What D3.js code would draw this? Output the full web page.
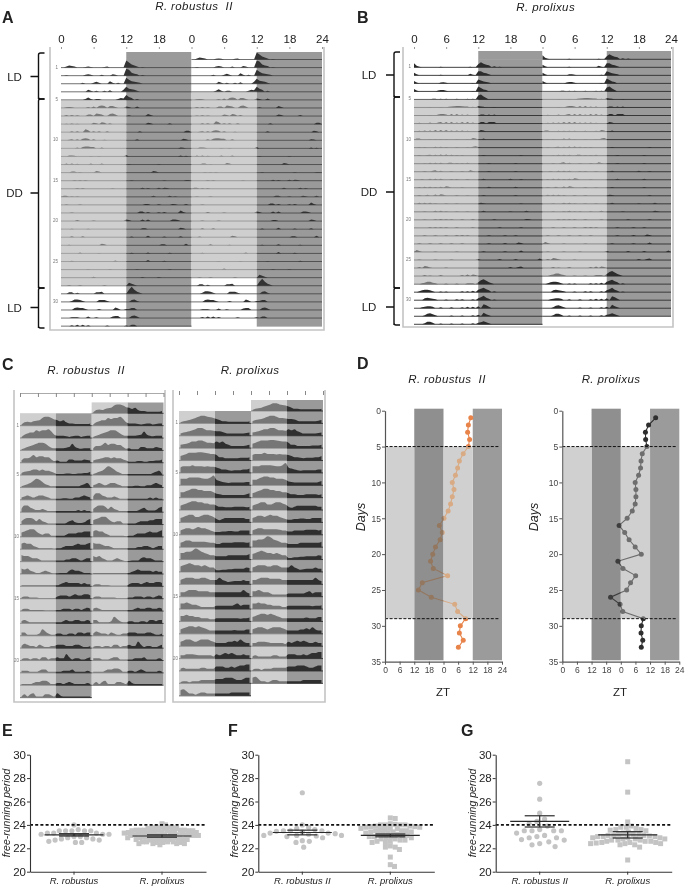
<!DOCTYPE html>
<html>
<head>
<meta charset="utf-8">
<script src="https://cdn.jsdelivr.net/npm/d3@7"></script>
<style>
  body { margin: 0; background: white; }
  svg { filter: blur(0.4px); }
  text { font-family: "Liberation Sans", Arial, sans-serif; fill: #222; }
</style>
</head>
<body>
<script>
// Panels A and B: activity per day, only the non-zero half hour bins as [hour, height]
var actoRobustus = [
  [[1,1],[1.5,2],[2,1.5],[2.5,1],[4.5,.7],[5,1],[5.5,.7],[8,.7],[8.5,1],[12,7],[12.5,5],[13,3],[13.5,2],[14,1],[15,.5]],
  [[1,.5],[4.5,1],[5,1.5],[5.5,1],[7.5,1],[9.5,1.5],[10,1],[12,7],[12.5,6],[13,3],[13.5,2],[14,1.5],[15,.7]],
  [[4,1],[6,1],[6.5,2],[7,1],[9,2.5],[9.5,1],[10.5,1],[12,6],[12.5,4],[13,2.5],[13.5,2],[14,1.5],[14.5,1]],
  [[5,2],[5.5,1],[6.5,1],[8,1],[9,1.5],[11.5,2],[12,5],[12.5,3],[13,2.5],[13.5,2],[14,1]],
  [[4.5,1],[5,2.5],[5.5,1],[6.5,1],[7,1],[10.5,1],[11,2],[11.5,1.5],[12,5],[12.5,3],[13,2],[14,1]],
  [[1,.7],[1.5,1],[2,.7],[5,1],[6,1.5],[7,2],[7.5,2.5],[8,2],[9,2],[9.5,2],[10,1],[12,1.5],[12.5,1],[14,1.5]],
  [[1,1],[2,1],[3,.7],[5,1.5],[5.5,1.5],[6.5,2.5],[7,2],[7.5,1.5],[9,2],[9.5,2.5],[10,1.5],[12.5,.7],[16,2],[16.5,1]],
  [[1,.5],[2,.7],[3,.5],[6,1.5],[6.5,1],[7.5,2],[8,1.5],[9,1],[16,1.5],[16.5,1],[20,1]],
  [[2,1],[3,1],[4.5,3],[5,2],[6,1],[7,1],[8.5,1],[14.5,1],[23,1.5],[23.5,1.5]],
  [[1.5,.5],[2,1],[3,1],[4,1.5],[4.5,2],[5,1.5],[6,1],[8,.5],[14,1],[22.5,1.5],[23,1]],
  [[3,1],[4,1.5],[4.5,2],[5,2],[5.5,1.5],[6,1.5],[7.5,1],[22,1],[22.5,.7]],
  [[1.5,1],[2,1],[2.5,.7],[5.5,.5],[7,.5],[12,1.5],[22,1],[23,.7]],
  [[1,1],[2,1],[3,.7],[5.5,1],[7.5,1],[12.5,.5],[18,.5]],
  [[2,1],[2.5,1],[3.5,.5],[6.5,1.5],[7,1],[17,1.5],[17.5,1]],
  [[2.5,.7],[3.5,.7],[4.5,.7],[13,.5],[19,.5],[23,.7],[23.5,.7]],
  [[3,.7],[4,.7],[9.5,.5],[15,1],[16,.7],[18,1],[19,1],[19.5,.7]],
  [[0.5,1],[1,1],[2,.7],[3,.7],[17,1],[20,1],[21,.7]],
  [[1,.5],[3.5,.5],[15.5,1],[16,1],[18,.7],[20.5,1],[21,.7],[23,1]],
  [[2,.5],[14.5,1.5],[15,1.5],[16,1],[18,.7],[19,1],[22,2.5],[22.5,1]],
  [[3,1],[6,.5],[12,1.5],[12.5,1],[15,1.5],[16,1.5],[20.5,1.5],[21,1.5],[21.5,1]],
  [[2,.5],[5,.5],[15,1],[15.5,1],[22,1.5],[22.5,1]],
  [[2,1],[4,1],[13,.7],[16,1.5],[19,.7],[22,1]],
  [[1.5,.7],[7.5,1.5],[8,1],[18.5,1],[19,1],[23,1.5]],
  [[3.5,1],[7,.5],[13,.7],[16,1],[20,.7]],
  [[2,.7],[10,1],[16,1.5],[19,.7]],
  [[5,.5],[9,.5],[14,.5],[20,.7]],
  [[6,1],[15,.7],[18,.7]],
  [[1.5,.7],[3.5,.7],[8,.7],[12.5,3],[13,2],[13.5,1]],
  [[1.5,1.5],[2,1.5],[3,1],[6.5,1.5],[7,1.5],[7.5,2],[12.5,4],[13,7],[13.5,4],[14,2],[14.5,1]],
  [[2,1],[2.5,2.5],[3,2.5],[3.5,2],[4,1],[7,2],[7.5,2],[8,2],[8.5,1],[13,2],[13.5,2.5],[14,1]],
  [[2.5,2],[3,2.5],[3.5,2],[4,2],[4.5,1],[7,1],[10,2.5],[10.5,1.5],[12,1],[12.5,1],[13,2],[13.5,2]],
  [[2,.7],[2.5,.7],[3,.7],[5,1.5],[6.5,.7],[9.5,1.5],[10,2],[10.5,2],[13,2],[13.5,2.5],[14,1.5]],
  [[2,1],[3,1.5],[4,1.5],[5,1],[8.5,.7],[12,.7],[13,1.5],[13.5,1.5]]
];

var actoProlixus = [
  [[0,4],[.5,1.5],[1,.5],[5,.5],[10.5,.5],[12,3],[12.5,5],[13,3.5],[13.5,2.5],[14,2],[15,1],[16,.7]],
  [[0,2.5],[.5,1],[5,.5],[10.5,1.5],[11,.7],[12,4],[12.5,4],[13,2.5],[13.5,2],[14,1]],
  [[0,2.5],[.5,1],[5,1],[5.5,1.2],[6,.7],[11,.5],[12,4],[12.5,3],[13,2],[13.5,1.5],[14,1]],
  [[0,2.5],[.5,1],[4.5,1],[5,1.5],[5.5,1.5],[6,.7],[11,.5],[12,5],[12.5,3.5],[13,2],[13.5,1.5]],
  [[3.5,.7],[4,.7],[5,.7],[6,.7],[8,.7],[10,.7],[11,.7],[12,4],[12.5,5],[13,3],[13.5,1.5]],
  [[3,.5],[5,.5],[6.5,.7],[7,1],[7.5,1.2],[8,1.5],[8.5,1.5],[9,1.2],[9.5,1],[10,1],[11,.7],[12,1.5],[12.5,1],[13,.7],[15,.5]],
  [[3,.5],[4.5,1],[5,1.5],[5.5,1.5],[6,1],[7,1.5],[8,1.5],[9,1],[10,1],[12.5,1],[13,1],[14,1],[15,1]],
  [[1,.7],[3,1],[4.5,1],[5,1.5],[6,1.5],[7,1.5],[8,1],[9,1.5],[10,1.5],[11,1],[12.5,1.5],[13,1.5],[14,1.5],[14.5,1.5],[15,1.5]],
  [[1,.7],[2,1],[3,1],[4,1.5],[5,1.5],[6,1.5],[7,1],[8,1],[9,1],[10,.7],[12.5,1.5],[13,1]],
  [[.5,1],[1,1],[3,.7],[4,.7],[5,.7],[6,.7],[8,.7],[10,.7],[11,1.5],[11.5,1],[13,1]],
  [[1,.7],[2,.7],[4,1],[5,1],[6,.7],[8,.7],[10,.7],[11,1],[11.5,1.5],[12,.7]],
  [[1,.7],[2.5,.7],[3,1],[4,1],[5,1.2],[6,1.2],[7,1],[8,.7],[9,.7],[13,.7],[20,.7]],
  [[2,.5],[3,1],[4,1],[5,1],[6.5,1],[7,1],[8,.7],[9,.7],[10,1],[14,.7],[19,.7]],
  [[2,.7],[3.5,1],[4,1.5],[5,1],[7,.7],[9,.7],[10.5,1.5],[11,.7],[14,.7],[19,.7]],
  [[1.5,.7],[3,1],[4,1],[5,1],[7,.7],[8,.7],[10,.7],[13,1],[18,1],[20,.7]],
  [[1,.7],[2,1],[3,1],[4,.7],[5,1],[6,1.5],[6.5,1],[9,.5],[14,1],[19,1]],
  [[1,.7],[2.5,1],[4,1.2],[5,1.5],[5.5,1],[8,.7],[10,.5],[13,.7],[19,.7]],
  [[1,1],[2,1],[3,1],[4,.7],[6,.7],[8,.7],[12.5,1],[13,.7],[20,.7]],
  [[2,.7],[4,1],[5,1],[6,.7],[8,.7],[10,.7],[13,1],[18,.7],[21,1]],
  [[2,.5],[4,.7],[5,1],[6,.7],[7,.7],[9,.7],[11,1],[15,.7],[21,1],[21.5,.7]],
  [[3,.7],[4,.7],[5,.7],[6,.7],[8,.7],[11,.7],[16,.7],[20,.7]],
  [[2,.7],[4,.7],[6,.7],[8,1],[9,1],[10,.7],[14,.7],[17,.7],[19,.7]],
  [[1,.7],[3,.7],[5,.7],[7,.7],[9,.7],[14,.7],[17,1],[19.5,1.5],[20,1]],
  [[.5,2],[1,1],[4,.5],[8,.5],[13,.7],[17,.7],[20,1.5]],
  [[1,.5],[4,.5],[7,.5],[12,1],[16,1],[19,1],[23.5,1.5]],
  [[1,1],[2,2],[2.5,1.5],[3,.7],[6,.5],[18,1],[19.5,1],[20,1.5]],
  [[2,1],[3,.7],[5,1],[9,1],[10,1.5],[11,1.5],[11.5,1]],
  [[1.5,1],[2,1.5],[2.5,2.5],[3,2.5],[3.5,1.5],[4,1],[6,.7],[8,.7],[10,1],[10.5,1],[11,1],[12,2],[12.5,4],[13,5],[13.5,3.5],[14,2],[14.5,1]],
  [[1,1],[1.5,2],[2,2.5],[2.5,2.5],[3,2],[3.5,1],[5,.7],[6,.7],[9,1],[10,1],[11,1.5],[12,2.5],[12.5,3.5],[13,4.5],[13.5,3],[14,2],[15,1]],
  [[2,2],[2.5,2.5],[3,2],[3.5,1.5],[4,1],[6,.7],[8,1],[9,1],[11,1],[12,2],[12.5,3],[13,4.5],[13.5,2.5],[14,1.5],[15,.7]],
  [[1.5,1],[2,1.5],[2.5,2],[3,2],[3.5,1.5],[5,1],[7,1],[9,1],[10,1.5],[11,1.5],[12,2],[13,4],[13.5,3],[14,1.5]],
  [[2,1],[2.5,2.5],[3,3],[3.5,2],[4,1],[7,.7],[9,.7],[11,1],[12,1.5],[13,3.5],[13.5,2],[14,1]],
  [[2,1],[2.5,2.5],[3,2.5],[3.5,1.5],[5,.7],[7,.7],[9,.7],[11,1],[12,1.5],[12.5,2],[13,3],[13.5,2],[14,1]]
];

// Panel C: mean profile per day, one height for every hour
var profileRobustus = [
  [1,3,3.5,3,4,4.5,5,7,8,8,7,5.5,5,4,5,3,2,2,1.5,1.5,1.5,1.5,1.5,2],
  [1,3,4,5,5,7,6,7,7,8,6,3,2,2,2,1.5,1,1.5,2,2,1,1.5,2,2],
  [1,2,3,4,5,6,7,7,6,4,2.5,2,2,2,2,2.5,3,6,3,2,1.5,2,2,2],
  [2,4,4,5,7,5,6,6,5,5,3,1.5,2,1,1,1,3,3,2,2,2,3,2.5,2],
  [2,3,3.5,4,5,5,4,5,4,4,3,2,1,1,1,1.5,1.5,1,1,1.5,1.5,2,2,3],
  [1,2,3,4,6,8,7,5,3,2,1,1,1,1,1,1,1,1,1,1,2,3,4,1],
  [2,3,4,3,2,3,4,4,3,2,1,1,1,1,1.5,1.5,1,1,2,2,3,4,3,2],
  [3,6,6,4,3,2,2,3,2,1,1,1,1,1,1,1,1,1,1,2,1,2,1,1],
  [3,5,6,6,5,3,5,3,2,1,1,1,1,1,1,1.5,3,4,2,1.5,1.5,2,4,5],
  [4,5,6,7,7,5,3,2,3,3,1,1,1,1,1,2,3,3,3,4,4,5,5,5],
  [5,6,5,5,3,2,1,1,1,1,1,.5,1,1,2,3,3,3,4,5,4,4,5,6],
  [6,5,5,4,3,3,2,1,1,1,1,1,1,1,1,2,2,3,3,2,1,2,3,3],
  [5,4,5,3,2,1,1,2,3,2,1,.5,.5,1,1,1,3,4,3,3,2,1,1,1],
  [1,1,1,1,1,1,1,1,1,1,1,1,1,2,3,4,3,3,3,3,2,3,2,2],
  [1,2,2,1,1,1,.5,.5,.5,.5,.5,.5,2,3,3,3,2,3,4,3,3,4,4,3],
  [1,2,2,1,1,1,1,1,.5,.5,.5,.5,1,1,2,2,2,1,2,2,1,2,3,2],
  [2,3,2,1,1,1,1,1,1,1,1,1,1,1,2,3,2,2,3,3,2,2,3,2],
  [3,3,1,1,1,1,2,6,4,2,1,1,2,2,1,1,2,2,1,3,3,2,3,3],
  [2,4,3,2,2,1,3,2,1,1,2,2,3,3,3,2,2,2,3,3,2,1,1,2],
  [1,2,2,1,2,2,1,3,3,1,2,2,3,2,2,6,3,1,2,2,1,1,2,3],
  [2,2,2,1,1,1,2,3,3,1,1,1,1,1,2,2,2,3,1,1,1,1,2,1],
  [1,1,1,1,2,3,3,4,4,3,1,1,2,2,1,2,3,2,1,1,1,1,2,1],
  [1,3,1,3,4,1,1,1,3,3,2,1,4,2,1,1,1,1,1,1,1,1,1,1]
];

var profileProlixus = [
  [1,2,2.5,3,4,5,6,7,7,6,5.5,5,4,3,2,2,1.5,1.5,1.5,1.5,1.5,1.5,1.5,2],
  [2,3,3.5,4,5,6,7,7,6,5,5,4.5,4,4,3.5,2.5,2,2,2,2,2,2,2.5,3],
  [3,3.5,4,5,6,6,7,7,6,5,5,4.5,6,5,6,4,3,2,2,2,2,2,2.5,3],
  [4,5,6,7,7,7,7.5,7.5,7,6.5,6,6,5,3,3,2,2,2,2,2,2.5,2.5,2.5,3],
  [5,6,6,6,7,6,6,6,5.5,6,5.5,5.5,5,4,3,3,2.5,2,2.5,2.5,2.5,3,3,4],
  [6,6,6,7,7,7,7,6.5,6,6,7,9,5,4,3,2.5,2,2.5,2.5,2.5,2.5,2.5,3,3],
  [5,5,6,7,8,8,7,7,6,6,6,5,3.5,3,2.5,2.5,2.5,2.5,2.5,2.5,2.5,2.5,3,4],
  [4,5,6,7,8,8,7,7,6,6,5,5,4,3,3,2.5,2.5,2.5,3,3,3,3,2.5,3],
  [4,5,6,7,7,5,5,6,7,7,6,5,3,2,3,4,4,4,4,4,4,4,3,3],
  [4,5,6,6,5,6,7,6,6,5,4,3,2.5,2.5,3,3,3.5,3.5,3,3,4,4,4,4],
  [4,5,6,6,5,5,5,5,5,4.5,4,4,3,3,4,4,4,4,4.5,4.5,4.5,4.5,4,4.5],
  [6,6,7,7,8,10,9,7,6,5,4,4,3,3,3,3,4,4,4,4,4,4,4,5],
  [5,6,7,8,7,6,6,5,6,5,4,4,1.5,1.5,2,2,2.5,2.5,3,3,3,3,4,3.5],
  [4,5,6,6,6,5,5,6,6,5,4,4,4,6,4,3,2,2.5,3,3,3,4,3,3],
  [4,4,5,6,6,6,5,5,5,5,4,4,4,4,4,4,4,4,4,4,4,6,4,3],
  [5,5,6,5,4,4,3,2,2,2,2,2,3,3,3,3,3,3,4,5,3,4,4,4],
  [5,5,6,5,5,4,4,3,3,3,2,2,3,3,3,3,3,3,3,3,2.5,3,3,3.5],
  [4,5,6,7,7,6,7,6,5,4,3,3,3,3,3,3,3,3,3.5,3,3,3,4,4],
  [4,5,6,6,5,4,5,6,6,6,5,4,3,3,3,3,4,4,5,4,6,4,3,3],
  [3,3,4,4,4,3.5,3,3,3,3,3,2,4,3,4,5,4,5,4,3,3,4,3,3],
  [2,3,2,2,2,2,2,3,3,2,2,2,4,4,4,3,3,4,3,4,5,5,6,6],
  [1,2,2,1,2,2,2,3,3,3,3,3,4,4,4,5,5,5,4,3,3,4,5,5],
  [5,6,4,2,2,1,2,3,3,2,2,2,2,2,2,2,2,3,3,3,3,3,3,3]
];

// Panel D: hour of the activity peak for days 1 to 33, on the double plotted 0-48 axis
var phaseRobustus = [35.2,34.2,33.9,34.7,34.2,32.1,30.5,29.8,28.9,27.6,28.3,27.6,26.9,25.9,24.2,22.3,23.5,22.6,20.7,19.6,18.7,19.8,25.7,15.3,13.7,19,28.6,29.8,33.1,30.9,30.5,32.1,30.1];
var phaseProlixus = [38.3,35.4,34.1,34.2,34.7,32.8,32.3,32.1,31.3,29.9,30.2,30.2,29.9,28.7,26.6,23.3,25.6,27.4,29.9,32.4,22.8,24.9,30.1,28,26.4,19.8,23.7,24.8,33.2,32.4,32.3,33,32.4];

// Panels E, F, G: free running periods
var periodRobustus = [24,23.6,23.5,23.5,23.5,23.5,23.5,23.3,23.3,23.3,23.2,23.2,23.2,23,23,22.9,22.9,22.8,22.8,22.7,22.7,22.6,22.5,22.5];
var periodProlixusE = [24.1,24,23.8,23.8,23.8,23.75,23.75,23.7,23.7,23.7,23.55,23.55,23.55,23.55,23.55,23.55,23.5,23.5,23.5,23.5,23.5,23.35,23.35,23.35,23.35,23.35,23.35,23.3,23.3,23.3,23.3,23.3,23.15,23.15,23.15,23.15,23.15,23.15,23.1,23.1,23.1,23.1,23.1,22.95,22.95,22.95,22.95,22.95,22.95,22.9,22.9,22.9,22.9,22.75,22.75,22.75,22.75,22.75,22.7,22.7,22.7,22.7,22.55,22.55,22.55,22.55,22.5,22.5,22.5,22.4,22.4,22.4,22.4,22.3];
var periodRobustusF = [26.75,24,23.8,23.7,23.6,23.5,23.5,23.5,23.45,23.4,23.3,23.3,23.25,23.2,23.1,23.1,23.1,23.05,23,22.9,22.65,22.6,22.5,22.1];
var periodProlixusF = [24.6,24.55,24.1,24.05,24,24,24,24,23.9,23.9,23.85,23.85,23.8,23.8,23.7,23.7,23.7,23.6,23.6,23.5,23.5,23.5,23.4,23.4,23.4,23.3,23.3,23.2,23.2,23.2,23.1,23.1,23,23,23,22.9,22.9,22.8,22.8,22.7,22.7,22.6,22.6,22.5,22.5,22.2,22.1,22.1,21.9,21.25,20.6,20.45];
var periodRobustusG = [27.55,26.2,25,24.5,24.3,24.1,23.9,23.6,23.5,23.5,23.5,23.5,23.3,23.1,23,22.9,22.9,22.75,22.7,22.55,22.4,22.3,22.15];
var periodProlixusG = [29.4,26.8,24.25,23.9,23.8,23.8,23.7,23.6,23.6,23.55,23.5,23.4,23.3,23.2,23.2,23.2,23.1,23.1,23.1,23.05,23,23,23,22.9,22.9,22.9,22.8,22.8,22.8,22.7,22.7,22.7,22.6,22.6,22.6,22.5,22.5,22.5,22.45,22.4,22.4,22.4,22.3,22.3,22.1,21];

var catsE = ["R. robustus", "R. prolixus"];
var catsF = ["R. robustus II", "R. prolixus"];
var meansE = [23.15, 23.05], semE = [0.1, 0.1];
var meansF = [23.35, 23.1], semF = [0.2, 0.12];
var meansG = [24.3, 23.15], semG = [0.48, 0.27];

var hourTicks = [0, 6, 12, 18, 24, 30, 36, 42, 48];
var rowLabels = [1, 5, 10, 15, 20, 25, 30];
var profileLabels = [1, 5, 10, 15, 20];
var dayTicks = [0, 5, 10, 15, 20, 25, 30, 35];
var periodTicks = [20, 22, 24, 26, 28, 30];

var w = 685;
var h = 887;
var lightGrey = "#cfcfcf";
var darkGrey = "#9a9a9a";

var svg = d3.select("body").append("svg").attr("width", w).attr("height", h);
svg.append("rect").attr("width", w).attr("height", h).attr("fill", "white");

var hourFormat = function (d) {
  return d == 48 ? "24" : String(d % 24);
};

function label(txt, x, y, size, opts) {
  opts = opts || {};
  var t = svg.append("text").attr("x", x).attr("y", y).attr("font-size", size).text(txt);
  if (opts.bold) t.attr("font-weight", "bold");
  if (opts.italic) t.attr("font-style", "italic");
  if (opts.anchor) t.attr("text-anchor", opts.anchor);
  if (opts.rotate) t.attr("transform", "rotate(-90 " + x + " " + y + ")");
  if (opts.fill) t.style("fill", opts.fill);
  if (opts.spacing) t.attr("letter-spacing", opts.spacing);
  return t;
}

// turn the sparse bins into a full series for one day
function halfHourSeries(bins) {
  var m = new Map(bins);
  return d3.range(0, 24.5, 0.5).map(function (t) {
    return [t, m.get(t) || 0];
  });
}
function hourSeries(vals) {
  return vals.map(function (v, i) {
    return [i + 0.5, v];
  });
}

// double plotted actogram, day d is the right half of row d and the left half of row d+1
function actogram(cfg) {
  var x = d3.scaleLinear().domain([0, 48]).range([cfg.x0, cfg.x1]);
  var nRows = cfg.days.length + 1;
  var rowY = function (r) {
    return cfg.y0 + r * cfg.step;
  };
  var isDD = function (d) {
    return d >= cfg.ddFrom && d < cfg.ddTo;
  };
  var g = svg.append("g");
  var over = [];

  d3.range(nRows).forEach(function (r) {
    [0, 1].forEach(function (half) {
      var d = r - 1 + half;
      var off = half * 24;
      var top = r == 0 ? cfg.top : rowY(r - 1);
      var ht = rowY(r) - top;
      var blank = (d < 0 && cfg.firstWhite) || (d >= cfg.days.length && cfg.lastWhite);
      // a bit of overlap so no white seams show between the rows
      g.append("rect")
        .attr("x", x(off)).attr("y", top)
        .attr("width", x(off + 12) - x(off)).attr("height", ht + 0.5)
        .attr("fill", isDD(d) ? lightGrey : "white");
      g.append("rect")
        .attr("x", x(off + 12)).attr("y", top)
        .attr("width", x(off + 24) - x(off + 12)).attr("height", ht + 0.5)
        .attr("fill", blank ? "white" : darkGrey);
      if (isDD(d)) over.push({ x: x(off), y: top, w: x(off + 12) - x(off), h: ht });
    });
  });

  // traces go on top of the bands
  d3.range(nRows).forEach(function (r) {
    [0, 1].forEach(function (half) {
      var d = r - 1 + half;
      if (d < 0 || d >= cfg.days.length) return;
      var off = half * 24;
      var series = cfg.series(cfg.days[d]);
      var area = d3.area()
        .x(function (p) { return x(off + p[0]); })
        .y0(rowY(r))
        .y1(function (p) { return rowY(r) - p[1] * cfg.unit; })
        .curve(cfg.curve);
      g.append("path").attr("d", area(series)).attr("fill", cfg.trace);
      g.append("line")
        .attr("x1", x(off)).attr("x2", x(off + 24))
        .attr("y1", rowY(r)).attr("y2", rowY(r))
        .attr("stroke", cfg.trace).attr("stroke-width", cfg.lineW);
    });
  });

  // subjective day washes the trace out
  g.selectAll(null).data(over).enter().append("rect")
    .attr("x", function (d) { return d.x; })
    .attr("y", function (d) { return d.y; })
    .attr("width", function (d) { return d.w; })
    .attr("height", function (d) { return d.h + 0.6; })
    .attr("fill", lightGrey)
    .attr("opacity", 0.45);

  return x;
}

function frame(x0, x1, yt, yb) {
  svg.append("path")
    .attr("d", "M" + x0 + "," + yt + "V" + yb + "H" + x1 + "V" + yt)
    .attr("fill", "none").attr("stroke", "#c4c4c4").attr("stroke-width", 1.6);
}

function rowNumbers(list, x, y0, step) {
  list.forEach(function (n) {
    label(n, x, y0 + n * step, 4.5, { anchor: "end", fill: "#777" });
  });
}

function brace(xs, y0, y1, ym) {
  svg.append("path")
    .attr("d",
      "M" + (xs + 6) + "," + y0 + "H" + (xs + 2) + "Q" + xs + "," + y0 + " " + xs + "," + (y0 + 2) +
      "V" + y1 + "M" + xs + "," + (y1 - 2) + "Q" + xs + "," + y1 + " " + (xs + 2) + "," + y1 + "H" + (xs + 6) +
      "M" + (xs - 8) + "," + ym + "H" + xs)
    .attr("fill", "none").attr("stroke", "#111").attr("stroke-width", 1.4);
}

function topAxis(x, y) {
  var ax = svg.append("g").attr("transform", "translate(0," + y + ")")
    .call(d3.axisTop(x).tickValues(hourTicks).tickFormat(hourFormat).tickSize(2).tickPadding(4));
  ax.select(".domain").remove();
  ax.selectAll("line").attr("stroke", "#999");
  ax.selectAll("text").attr("font-size", 11.5).attr("font-family", '"Liberation Sans"');
}

// panel A
var xA = actogram({
  days: actoRobustus, x0: 61, x1: 322, y0: 59.5, step: 8.08, top: 52, ddFrom: 5, ddTo: 28,
  series: halfHourSeries, unit: 1, curve: d3.curveLinear, trace: "#333", lineW: 0.7
});
frame(50, 324, 47, 330);
topAxis(xA, 49);
rowNumbers(rowLabels, 58, 59.5 + 1, 8.08);

// panel B
var xB = actogram({
  days: actoProlixus, x0: 414, x1: 671, y0: 59.3, step: 8.03, top: 51, ddFrom: 5, ddTo: 28,
  series: halfHourSeries, unit: 1, curve: d3.curveLinear, trace: "#2c2c2c", lineW: 0.9, lastWhite: true
});
frame(403, 673, 47, 327);
topAxis(xB, 49);
rowNumbers(rowLabels, 411, 59.3 + 1, 8.03);

brace(38.5, 53, 99, 76.5);
brace(38.5, 99, 288, 193);
brace(38.5, 288, 328, 307.5);
brace(394, 52, 97, 75);
brace(394, 97, 288, 192);
brace(394, 288, 325, 307);
label("LD", 14.5, 80.5, 11.5, { anchor: "middle" });
label("DD", 14.5, 197, 11.5, { anchor: "middle" });
label("LD", 14.5, 311.5, 11.5, { anchor: "middle" });
label("LD", 369, 79, 11.5, { anchor: "middle" });
label("DD", 369, 196, 11.5, { anchor: "middle" });
label("LD", 369, 311, 11.5, { anchor: "middle" });

// panel C
function ruler(x, y, withLine) {
  var ax = svg.append("g").attr("transform", "translate(0," + y + ")")
    .call(d3.axisBottom(x).tickValues(hourTicks).tickFormat("").tickSize(4).tickSizeOuter(0));
  ax.selectAll("line").attr("stroke", "#888");
  ax.select(".domain").attr("stroke", "#aaa");
  if (!withLine) ax.select(".domain").remove();
}

var xCl = actogram({
  days: profileRobustus, x0: 20, x1: 163.5, y0: 413.3, step: 12.36, top: 402.5, ddFrom: 0, ddTo: 23,
  series: hourSeries, unit: 1.1, curve: d3.curveMonotoneX, trace: "#2f2f2f", lineW: 0.9, firstWhite: true, lastWhite: true
});
frame(14, 165, 390, 702);
ruler(xCl, 393, true);
rowNumbers(profileLabels, 19, 413.3 + 1, 12.36);

var xCr = actogram({
  days: profileProlixus, x0: 179, x1: 323, y0: 411, step: 12.38, top: 400, ddFrom: 0, ddTo: 23,
  series: hourSeries, unit: 1.1, curve: d3.curveMonotoneX, trace: "#2f2f2f", lineW: 0.9, firstWhite: true, lastWhite: true
});
frame(173, 325, 390, 702);
ruler(xCr, 391, false);
rowNumbers(profileLabels, 178, 411 + 1, 12.38);

// panel D, the marks change colour under the light and dark bands so draw them once per zone
var clipCount = 0;
function phasePlot(cfg) {
  var x = d3.scaleLinear().domain([0, 48]).range([cfg.x0, cfg.x0 + 117]);
  var y = d3.scaleLinear().domain([0, 35]).range([410.7, 661.7]);
  var days = d3.range(1, cfg.vals.length + 1);
  var pts = cfg.vals.map(function (v, i) { return [x(v), y(days[i])]; });
  var g = svg.append("g");

  [[12, "#8f8f8f"], [36, "#9b9b9b"]].forEach(function (b) {
    g.append("rect")
      .attr("x", x(b[0])).attr("y", y(0) - 2)
      .attr("width", x(b[0] + 12) - x(b[0])).attr("height", y(34.8) - y(0) + 2)
      .attr("fill", b[1]);
  });
  [0.6, 24].forEach(function (t) {
    g.append("rect")
      .attr("x", x(t)).attr("y", y(5))
      .attr("width", x(12 * (t > 1 ? 3 : 1)) - x(t)).attr("height", y(29) - y(5))
      .attr("fill", "#d0d0d0");
  });

  var zones = [
    { col: cfg.base, rects: [[-5, 405, 140, y(5) - 405], [-5, y(29), 140, 50]] },
    { col: cfg.light, rects: [[x(0) - cfg.x0, y(5), x(12) - x(0), y(29) - y(5)], [x(24) - cfg.x0, y(5), x(36) - x(24), y(29) - y(5)]] },
    { col: cfg.dark, rects: [[x(12) - cfg.x0, y(5), x(24) - x(12), y(29) - y(5)], [x(36) - cfg.x0, y(5), x(48) - x(36), y(29) - y(5)]] }
  ];
  zones.forEach(function (z) {
    var id = "zone" + clipCount++;
    var clip = svg.append("clipPath").attr("id", id);
    z.rects.forEach(function (r) {
      clip.append("rect").attr("x", cfg.x0 + r[0]).attr("y", r[1]).attr("width", r[2]).attr("height", r[3]);
    });
    var m = g.append("g").attr("clip-path", "url(#" + id + ")");
    m.append("path").attr("d", d3.line()(pts))
      .attr("fill", "none").attr("stroke", z.col).attr("stroke-width", 1.1);
    m.selectAll("circle").data(pts).enter().append("circle")
      .attr("cx", function (d) { return d[0]; })
      .attr("cy", function (d) { return d[1]; })
      .attr("r", 2.5)
      .attr("fill", z.col);
  });

  [5, 29].forEach(function (d) {
    g.append("line")
      .attr("x1", x(0)).attr("x2", x(47))
      .attr("y1", y(d)).attr("y2", y(d))
      .attr("stroke", "#111").attr("stroke-width", 1).attr("stroke-dasharray", "3,1.6");
  });

  var ay = g.append("g").attr("transform", "translate(" + x(0) + ",0)")
    .call(d3.axisLeft(y).tickValues(dayTicks).tickSize(3).tickPadding(1).tickSizeOuter(0));
  var ax = g.append("g").attr("transform", "translate(0," + y(35) + ")")
    .call(d3.axisBottom(x).tickValues(hourTicks).tickFormat(hourFormat).tickSize(3).tickPadding(2).tickSizeOuter(0));
  [ay, ax].forEach(function (a) {
    a.selectAll("text").attr("font-size", 8.5).attr("font-family", '"Liberation Sans"').style("fill", "#444");
    a.selectAll("line").attr("stroke", "#555");
    a.select(".domain").attr("stroke", "#555").attr("stroke-width", 1.2);
  });
}

phasePlot({ vals: phaseRobustus, x0: 385, base: "#e8834a", light: "#d8ab85", dark: "#94775f" });
phasePlot({ vals: phaseProlixus, x0: 562.3, base: "#2e2e2e", light: "#6e6e6e", dark: "#3c3c3c" });

label("Days", 365, 517, 12.5, { italic: true, anchor: "middle", rotate: true });
label("Days", 538, 517, 12.5, { italic: true, anchor: "middle", rotate: true });
label("ZT", 443, 696, 11.5, { anchor: "middle" });
label("ZT", 620, 696, 11.5, { anchor: "middle" });

// panels E, F, G
function swarm(vals, y, gap) {
  var placed = [];
  vals.slice().sort(d3.descending).forEach(function (v) {
    var py = y(v);
    for (var k = 0; k < 200; k++) {
      var off = (k % 2 ? 1 : -1) * Math.ceil(k / 2) * 0.7;
      var clash = placed.some(function (p) {
        var dx = p[0] - off, dy = p[1] - py;
        return dx * dx + dy * dy < gap * gap;
      });
      if (!clash) {
        placed.push([off, py]);
        break;
      }
    }
  });
  return placed;
}

function periodPlot(cfg) {
  var y = d3.scaleLinear().domain([20, 30]).range([871.7, 754.7]);
  var x = d3.scaleBand().domain(cfg.cats).range([cfg.x0, cfg.x0 + 176]);
  var g = svg.append("g");
  var cx = function (i) { return x(cfg.cats[i]) + x.bandwidth() / 2; };

  g.selectAll("circle").data(swarm(cfg.a, y, cfg.gapA)).enter().append("circle")
    .attr("cx", function (d) { return cx(0) + d[0]; })
    .attr("cy", function (d) { return d[1]; })
    .attr("r", 2.6)
    .attr("fill", "#c4c4c4");
  g.selectAll("rect.pt").data(swarm(cfg.b, y, cfg.gap)).enter().append("rect")
    .attr("class", "pt")
    .attr("x", function (d) { return cx(1) + d[0] - 2.5; })
    .attr("y", function (d) { return d[1] - 2.5; })
    .attr("width", 5).attr("height", 5)
    .attr("fill", "#c4c4c4");

  g.append("line")
    .attr("x1", cfg.x0).attr("x2", cfg.x0 + 176)
    .attr("y1", y(24)).attr("y2", y(24))
    .attr("stroke", "#111").attr("stroke-width", 1.6).attr("stroke-dasharray", "3,2.2");

  cfg.means.forEach(function (m, i) {
    var e = g.append("g").attr("stroke", "#2a2a2a").attr("stroke-width", 1.2);
    e.append("line").attr("x1", cx(i) - 29.5).attr("x2", cx(i) + 29.5).attr("y1", y(m)).attr("y2", y(m));
    e.append("line").attr("x1", cx(i)).attr("x2", cx(i)).attr("y1", y(m - cfg.sem[i])).attr("y2", y(m + cfg.sem[i]));
    [m - cfg.sem[i], m + cfg.sem[i]].forEach(function (c) {
      e.append("line").attr("x1", cx(i) - 15).attr("x2", cx(i) + 15).attr("y1", y(c)).attr("y2", y(c));
    });
  });

  var ay = g.append("g").attr("transform", "translate(" + cfg.x0 + ",0)")
    .call(d3.axisLeft(y).tickValues(periodTicks).tickSize(3).tickPadding(1).tickSizeOuter(0));
  var ax = g.append("g").attr("transform", "translate(0,871.7)")
    .call(d3.axisBottom(x).tickSize(3).tickPadding(3).tickSizeOuter(0));
  ay.selectAll("text").attr("font-size", 11.5).attr("font-family", '"Liberation Sans"');
  ax.selectAll("text").attr("font-size", 9.5).attr("font-style", "italic").attr("font-family", '"Liberation Sans"');
  [ay, ax].forEach(function (a) {
    a.selectAll("line").attr("stroke", "#333");
    a.select(".domain").attr("stroke", "#333").attr("stroke-width", 1.1);
  });

  label("free-running period", cfg.x0 - 20, 813, 10.5, { italic: true, anchor: "middle", rotate: true });
}

periodPlot({ cats: catsE, x0: 30, a: periodRobustus, b: periodProlixusE, gapA: 6, gap: 3.6, means: meansE, sem: semE });
periodPlot({ cats: catsF, x0: 258.3, a: periodRobustusF, b: periodProlixusF, gapA: 6.5, gap: 4.4, means: meansF, sem: semF });
periodPlot({ cats: catsF, x0: 495.7, a: periodRobustusG, b: periodProlixusG, gapA: 7.5, gap: 5, means: meansG, sem: semG });

// titles and panel letters
label("R. robustus  II", 194, 10, 11.5, { italic: true, anchor: "middle", spacing: 0.4 }).style("white-space", "pre");
label("R. prolixus", 545.7, 11, 11.5, { italic: true, anchor: "middle", spacing: 0.4 });
label("R. robustus  II", 86, 373.5, 11.5, { italic: true, anchor: "middle", spacing: 0.4 }).style("white-space", "pre");
label("R. prolixus", 250, 373.5, 11.5, { italic: true, anchor: "middle", spacing: 0.4 });
label("R. robustus  II", 447, 383, 11.5, { italic: true, anchor: "middle", spacing: 0.4 }).style("white-space", "pre");
label("R. prolixus", 611, 383, 11.5, { italic: true, anchor: "middle", spacing: 0.4 });

label("A", 2, 23, 16, { bold: true });
label("B", 357, 23, 16, { bold: true });
label("C", 2, 369.5, 16, { bold: true });
label("D", 357, 369, 16, { bold: true });
label("E", 2, 736, 16, { bold: true });
label("F", 228, 736, 16, { bold: true });
label("G", 461, 736, 16, { bold: true });
</script>
</body>
</html>
